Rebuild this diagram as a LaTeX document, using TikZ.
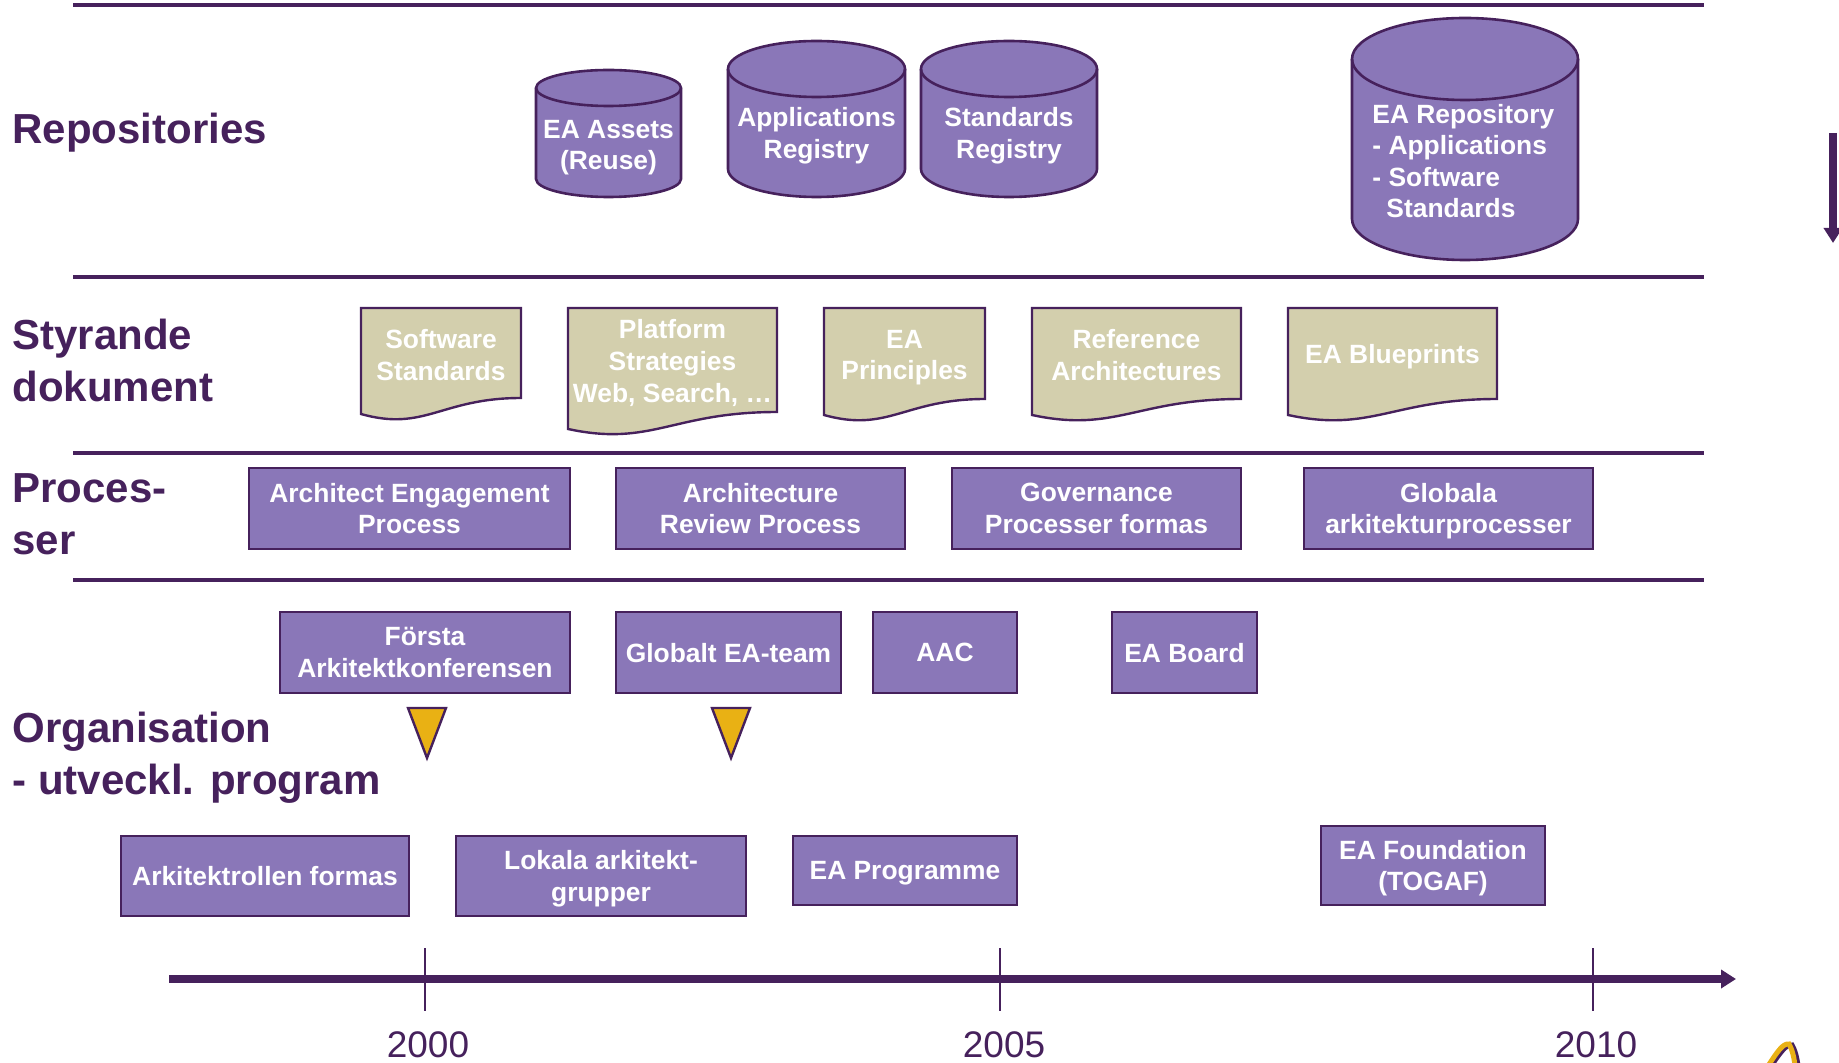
\documentclass[tikz,border=0pt]{standalone}
\usepackage{fontspec}
\setmainfont{Liberation Sans}
\usetikzlibrary{arrows.meta}
\definecolor{dkpurple}{HTML}{46215C}
\definecolor{boxpurple}{HTML}{8A77B8}
\definecolor{docbeige}{HTML}{D3CFAD}
\definecolor{triyellow}{HTML}{E9B114}
\tikzset{
  boxfont/.style={font=\bfseries\fontsize{13.2}{15.8}\selectfont},
  box/.style={boxfont, draw=dkpurple, line width=1.3pt, fill=boxpurple, text=white, align=center, inner sep=0pt, text depth=0pt},
  cylshape/.style={draw=dkpurple, line width=1.3pt, fill=boxpurple},
  cyltext/.style={boxfont, text=white, align=center, inner sep=0pt, text depth=0pt},
  docshape/.style={draw=dkpurple, line width=1.2pt, fill=docbeige},
  doctext/.style={boxfont, text=white, align=center, inner sep=0pt, text depth=0pt},
  rowlabel/.style={text=dkpurple, font=\bfseries\fontsize{21}{25.8}\selectfont, align=left, anchor=west, inner sep=0pt, text depth=0pt},
  sepline/.style={dkpurple, line width=2.2pt},
  tickline/.style={dkpurple, line width=1pt},
  yearlabel/.style={text=dkpurple, font=\fontsize{18.5}{22}\selectfont, inner sep=0pt},
  marker/.style={fill=triyellow, draw=dkpurple, line width=1.2pt, line join=miter},
  bigarrow/.style={dkpurple, line width=4pt, -{Triangle[length=7.5pt,width=9pt]}}
}
\newcommand\drawcyl[5]{%
  \pgfmathsetmacro\rxpt{(#3-#1)/4}%
  \pgfmathsetmacro\rypt{#5/2}%
  \filldraw[cylshape] (#1,#2+#5) -- (#1,#4-#5) arc[start angle=180,end angle=360,x radius=\rxpt pt,y radius=\rypt pt] -- (#3,#2+#5) arc[start angle=0,end angle=180,x radius=\rxpt pt,y radius=\rypt pt] -- cycle;
  \draw[cylshape, fill=none] (#1,#2+#5) arc[start angle=180,end angle=360,x radius=\rxpt pt,y radius=\rypt pt];
}
\newcommand\drawdoc[5]{%
  \filldraw[docshape] (#1,#2) -- (#3,#2) -- (#3,#4) .. controls ({#3-0.5*(#3-#1)},#4) and ({#1+0.4*(#3-#1)},{#5+18}) .. (#1,#5) -- cycle;
}
\begin{document}
\begin{tikzpicture}[x=0.5pt,y=-0.5pt]
\useasboundingbox (0,0) rectangle (1839,1063);

% section lines
\coordinate (s1a) at (73,5);   \coordinate (s1b) at (1704,5);
\coordinate (s2a) at (73,277); \coordinate (s2b) at (1704,277);
\coordinate (s3a) at (73,453); \coordinate (s3b) at (1704,453);
\coordinate (s4a) at (73,580); \coordinate (s4b) at (1704,580);
\draw[sepline] (s1a) -- (s1b);
\draw[sepline] (s2a) -- (s2b);
\draw[sepline] (s3a) -- (s3b);
\draw[sepline] (s4a) -- (s4b);

% row labels
\node[rowlabel] (lrepo) at (12,128.5) {Repositories};
\node[rowlabel] (lstyr) at (12,360) {Styrande\\dokument};
\node[rowlabel] (lproc) at (12,514) {Proces-\\ser};
\node[rowlabel] (lorg) at (12,753.5) {Organisation\\- utveckl. program};

% repositories
\drawcyl{536}{70}{681}{197}{18}
\node[cyltext] (assets) at (608.5,145) {EA Assets\\(Reuse)};
\drawcyl{728}{41}{905}{197}{28}
\node[cyltext] (appreg) at (816.5,133) {Applications\\Registry};
\drawcyl{921}{41}{1097}{197}{28}
\node[cyltext] (stdreg) at (1009,133) {Standards\\Registry};
\drawcyl{1352}{18}{1578}{260}{41}
\node[cyltext, align=left, anchor=west] (earepo) at (1372,161) {EA Repository\\- Applications\\- Software\\\hspace*{7pt}Standards};

% styrande dokument
\drawdoc{361}{308}{521}{398}{414}
\node[doctext] (softstd) at (441,355) {Software\\Standards};
\drawdoc{568}{308}{777}{412}{429}
\node[doctext] (platform) at (672.5,361) {Platform\\Strategies\\Web, Search, …};
\drawdoc{824}{308}{985}{399}{415}
\node[doctext] (eaprinc) at (904.5,355) {EA\\Principles};
\drawdoc{1032}{308}{1241}{399}{415}
\node[doctext] (refarch) at (1136.5,355) {Reference\\Architectures};
\drawdoc{1288}{308}{1497}{399}{415}
\node[doctext] (eablue) at (1392.5,354) {EA Blueprints};

% processer
\node[box, minimum width=160.5pt, minimum height=40.5pt] (aep) at (409.5,508.5) {Architect Engagement\\Process};
\node[box, minimum width=144.5pt, minimum height=40.5pt] (arp) at (760.5,508.5) {Architecture\\Review Process};
\node[box, minimum width=144.5pt, minimum height=40.5pt] (gpf) at (1096.5,508.5) {Governance\\Processer formas};
\node[box, minimum width=144.5pt, minimum height=40.5pt] (gap) at (1448.5,508.5) {Globala\\arkitekturprocesser};

% organisation
\node[box, minimum width=145pt, minimum height=40.5pt] (fak) at (425,652.5) {Första\\Arkitektkonferensen};
\node[box, minimum width=112.5pt, minimum height=40.5pt] (gea) at (728.5,652.5) {Globalt EA-team};
\node[box, minimum width=72pt, minimum height=40.5pt] (aac) at (945,652.5) {AAC};
\node[box, minimum width=72.5pt, minimum height=40.5pt] (eab) at (1184.5,652.5) {EA Board};

\draw[marker] (408,708) -- (446,708) -- (427,758) -- cycle;
\draw[marker] (712,708) -- (750,708) -- (731,758) -- cycle;

\node[box, minimum width=144pt, minimum height=40pt] (akr) at (265,876) {Arkitektrollen formas};
\node[box, minimum width=145pt, minimum height=40pt] (lok) at (601,876) {Lokala arkitekt-\\grupper};
\node[box, minimum width=112pt, minimum height=34.5pt] (eap) at (905,870.5) {EA Programme};
\node[box, minimum width=112pt, minimum height=39.5pt] (eaf) at (1433,865.5) {EA Foundation\\(TOGAF)};

% timeline
\coordinate (tl0) at (169,979);
\coordinate (tl1) at (1736,979);
\draw[bigarrow] (tl0) -- (tl1);
\coordinate (ta0) at (424.5,948);  \coordinate (tb0) at (424.5,1011);
\coordinate (ta1) at (1000,948);   \coordinate (tb1) at (1000,1011);
\coordinate (ta2) at (1592.6,948); \coordinate (tb2) at (1592.6,1011);
\draw[tickline] (ta0) -- (tb0);
\draw[tickline] (ta1) -- (tb1);
\draw[tickline] (ta2) -- (tb2);
\node[yearlabel] (y2000) at (428,1045) {2000};
\node[yearlabel] (y2005) at (1004,1045) {2005};
\node[yearlabel] (y2010) at (1596,1045) {2010};

% right-side arrow
\coordinate (ra0) at (1833,133);
\coordinate (ra1) at (1833,243);
\draw[bigarrow] (ra0) -- (ra1);

% logo fragment
\draw[dkpurple, line width=2.5pt, line cap=round] (1771,1066) .. controls (1780,1053) and (1786,1044) .. (1792,1045) .. controls (1795,1050) and (1797,1058) .. (1798,1066);
\draw[triyellow, line width=2.5pt, line cap=round] (1768,1066) .. controls (1777,1052) and (1783,1043) .. (1789,1044) .. controls (1792,1049) and (1794,1057) .. (1795,1066);
\end{tikzpicture}
\end{document}
